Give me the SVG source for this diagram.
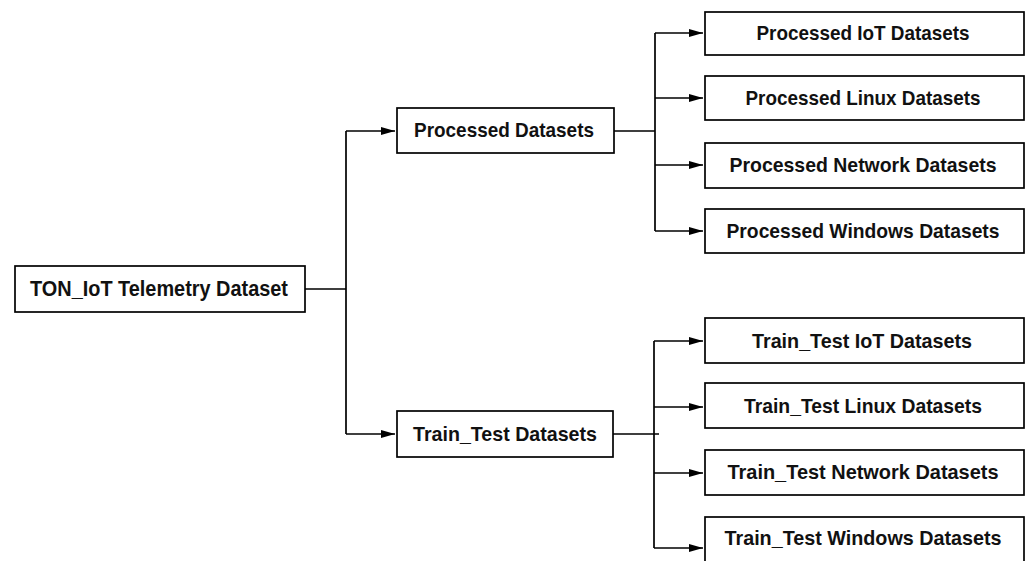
<svg xmlns="http://www.w3.org/2000/svg" width="1032" height="561" viewBox="0 0 1032 561">
<style>
.box{fill:#fff;stroke:#000;stroke-width:1.7}
.lbl{font-family:"Liberation Sans",Arial,sans-serif;font-weight:bold;font-size:21px;fill:#111;text-anchor:middle}
.ln{fill:none;stroke:#000;stroke-width:1.7}
.arr{fill:none;stroke:#000;stroke-width:1.7;marker-end:url(#ah)}
</style>
<defs>
<marker id="ah" markerUnits="userSpaceOnUse" markerWidth="15" markerHeight="9" refX="14" refY="4" orient="auto">
<path d="M0,0 L14,4 L0,8 z" fill="#000"/>
</marker>
</defs>
<rect width="1032" height="561" fill="#fff"/>
<g id="connectors">
<path class="ln" d="M305,289 H346 M346,131 V434"/>
<path class="arr" d="M346,131 H395"/>
<path class="arr" d="M346,434 H395"/>
<path class="ln" d="M614,131 H655 M655,33 V231"/>
<path class="arr" d="M655,33 H703"/>
<path class="arr" d="M655,98 H703"/>
<path class="arr" d="M655,165 H703"/>
<path class="arr" d="M655,231 H703"/>
<path class="ln" d="M613,434 H659 M654,341 V548"/>
<path class="arr" d="M654,341 H703"/>
<path class="arr" d="M654,407 H703"/>
<path class="arr" d="M654,473 H703"/>
<path class="arr" d="M654,548 H703"/>
</g>
<g id="root">
<rect class="box" x="15" y="266" width="290" height="46"/>
<text class="lbl" x="159" y="296" style="font-size:22px" textLength="258" lengthAdjust="spacingAndGlyphs">TON_IoT Telemetry Dataset</text>
</g>
<g id="processed">
<rect class="box" x="397" y="108" width="217" height="45"/>
<text class="lbl" x="504" y="137" textLength="180" lengthAdjust="spacingAndGlyphs">Processed Datasets</text>
</g>
<g id="traintest">
<rect class="box" x="397" y="411" width="216" height="46"/>
<text class="lbl" x="505" y="441" textLength="184" lengthAdjust="spacingAndGlyphs">Train_Test Datasets</text>
</g>
<g id="p-iot">
<rect class="box" x="705" y="12" width="319" height="43"/>
<text class="lbl" x="863" y="40" textLength="213" lengthAdjust="spacingAndGlyphs">Processed IoT Datasets</text>
</g>
<g id="p-linux">
<rect class="box" x="705" y="76" width="319" height="44"/>
<text class="lbl" x="863" y="105" textLength="235" lengthAdjust="spacingAndGlyphs">Processed Linux Datasets</text>
</g>
<g id="p-network">
<rect class="box" x="705" y="143" width="319" height="45"/>
<text class="lbl" x="863" y="172" textLength="267" lengthAdjust="spacingAndGlyphs">Processed Network Datasets</text>
</g>
<g id="p-windows">
<rect class="box" x="705" y="209" width="319" height="44"/>
<text class="lbl" x="863" y="238" textLength="273" lengthAdjust="spacingAndGlyphs">Processed Windows Datasets</text>
</g>
<g id="t-iot">
<rect class="box" x="705" y="318" width="319" height="45"/>
<text class="lbl" x="862" y="348" textLength="220" lengthAdjust="spacingAndGlyphs">Train_Test IoT Datasets</text>
</g>
<g id="t-linux">
<rect class="box" x="705" y="383" width="319" height="45"/>
<text class="lbl" x="863" y="413" textLength="238" lengthAdjust="spacingAndGlyphs">Train_Test Linux Datasets</text>
</g>
<g id="t-network">
<rect class="box" x="705" y="450" width="319" height="45"/>
<text class="lbl" x="863" y="479" textLength="271" lengthAdjust="spacingAndGlyphs">Train_Test Network Datasets</text>
</g>
<g id="t-windows">
<rect class="box" x="705" y="517" width="319" height="50"/>
<text class="lbl" x="863" y="545" textLength="277" lengthAdjust="spacingAndGlyphs">Train_Test Windows Datasets</text>
</g>
</svg>
